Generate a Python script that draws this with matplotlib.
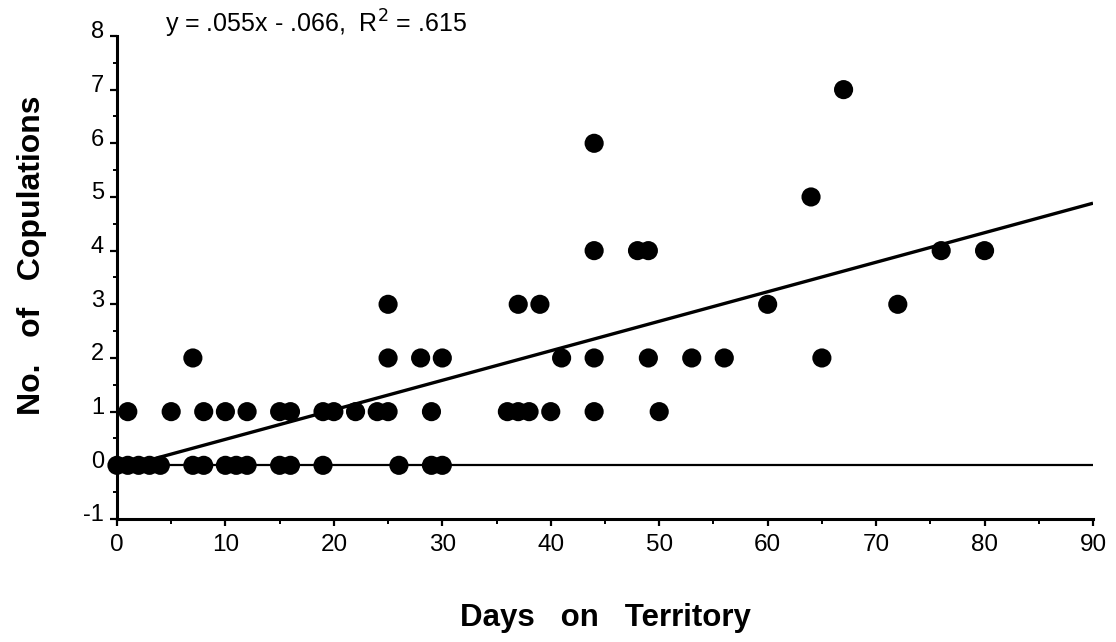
import matplotlib
matplotlib.use("Agg")
import matplotlib.pyplot as plt
import matplotlib.transforms as mtransforms
import numpy as np
from matplotlib.ticker import MultipleLocator

# Data (days on territory, number of copulations)
days_0 = [0, 1, 2, 3, 4, 7, 8, 10, 11, 12, 15, 16, 19, 26, 29, 30]
days_1 = [1, 5, 8, 10, 12, 15, 16, 19, 20, 22, 24, 25, 29, 36, 37, 38, 40, 44, 50]
days_2 = [7, 25, 28, 30, 41, 44, 49, 53, 56, 65]
days_3 = [25, 37, 39, 60, 72]
days_4 = [44, 48, 49, 76, 80]
days_5 = [64]
days_6 = [44]
days_7 = [67]

slope = 0.055
intercept = -0.066
fit_x_range = [3, 90]

x_ticks = [0, 10, 20, 30, 40, 50, 60, 70, 80, 90]
y_ticks = [-1, 0, 1, 2, 3, 4, 5, 6, 7, 8]

plt.rcParams['font.family'] = ['Liberation Sans', 'DejaVu Sans']
plt.rcParams['axes.unicode_minus'] = False

fig = plt.figure(figsize=(11.16, 6.42), dpi=100)
ax = fig.add_axes([0.1048, 0.1916, 0.8746, 0.7524])

xs, ys = [], []
for val, arr in enumerate([days_0, days_1, days_2, days_3, days_4, days_5, days_6, days_7]):
    xs += arr
    ys += [val] * len(arr)

ax.scatter(xs, ys, s=190, c='black', edgecolors='none', zorder=3, clip_on=False)

# zero reference line
ax.plot([0, 90], [0, 0], color='black', lw=1.6, zorder=2, solid_capstyle='butt')
# regression line
fx = np.array(fit_x_range, dtype=float)
ax.plot(fx, slope * fx + intercept, color='black', lw=2.4, zorder=2, solid_capstyle='butt')

ax.set_xlim(0, 90)
ax.set_ylim(-1, 8)
ax.set_xticks(x_ticks)
ax.set_yticks(y_ticks)
ax.xaxis.set_minor_locator(MultipleLocator(5))
ax.yaxis.set_minor_locator(MultipleLocator(0.5))

for s in ['top', 'right']:
    ax.spines[s].set_visible(False)
for s in ['left', 'bottom']:
    ax.spines[s].set_linewidth(2.2)

ax.tick_params(axis='x', which='major', direction='out', length=5, width=1.6,
               labelsize=17.5, colors='black', pad=5.5)
ax.tick_params(axis='x', which='minor', direction='out', length=3.6, width=1.4)
ax.tick_params(axis='y', which='major', direction='out', length=5, width=1.6,
               labelsize=17, colors='black', pad=4.3)
ax.tick_params(axis='y', which='minor', direction='out', length=3, width=1.4)

# y tick labels sit slightly above their ticks in the reference
offset = mtransforms.ScaledTranslation(0, 4.5 / 72, fig.dpi_scale_trans)
for lbl in ax.get_yticklabels():
    lbl.set_transform(lbl.get_transform() + offset)

ax.set_xlabel('Days   on   Territory', fontsize=22.5, fontweight='bold', va='center')
ax.xaxis.set_label_coords(0.5005, -0.204)
ax.set_ylabel('No.   of   Copulations', fontsize=23, fontweight='bold', va='center')
ax.yaxis.set_label_coords(-0.087, 0.547)

fig.text(165 / 1116, 1 - 24 / 642, r'y = .055x - .066,  R$^2$ = .615', fontsize=18,
         ha='left', va='center')

fig.savefig('out.png', dpi=100, facecolor='white')
